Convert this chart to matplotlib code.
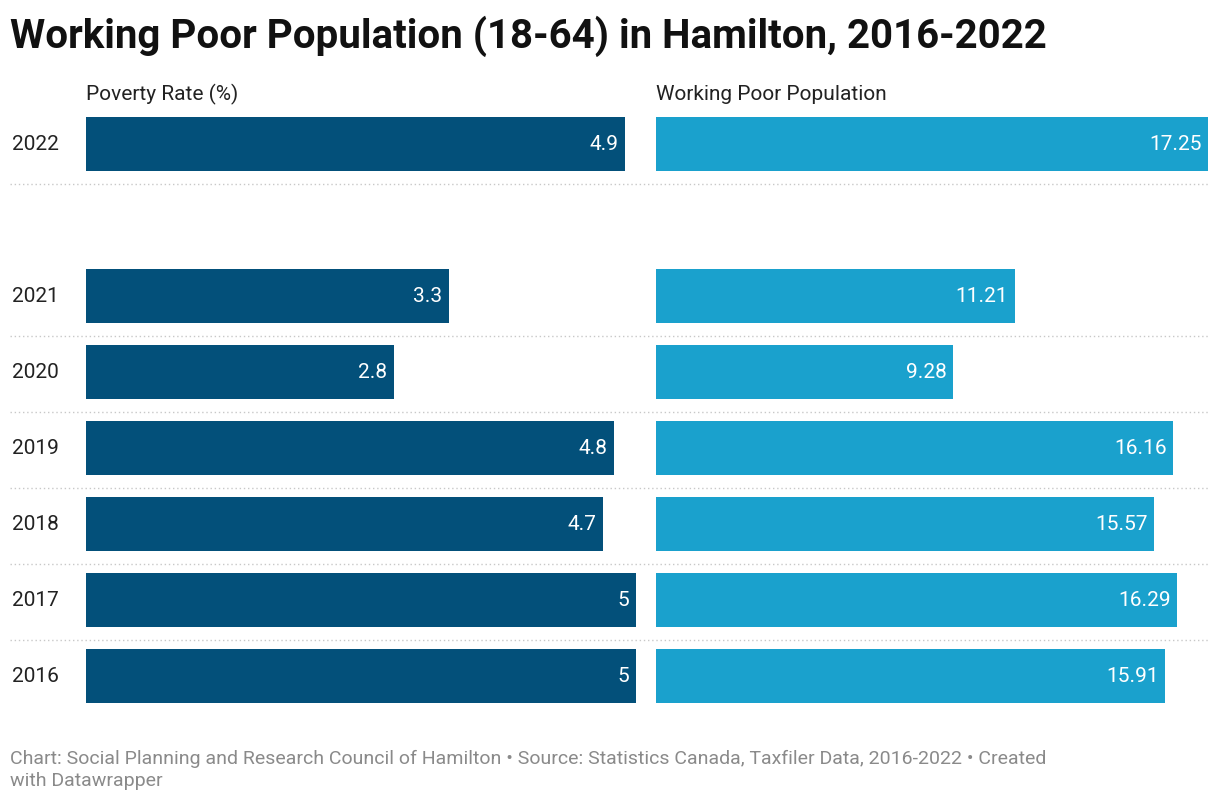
import matplotlib
matplotlib.use("Agg")
import matplotlib.pyplot as plt
from matplotlib.lines import Line2D

years = ["2022", "2021", "2020", "2019", "2018", "2017", "2016"]
rows = [0, 2, 3, 4, 5, 6, 7]
poverty_rate = [4.9, 3.3, 2.8, 4.8, 4.7, 5, 5]
working_poor = [17.25, 11.21, 9.28, 16.16, 15.57, 16.29, 15.91]
pov_labels = ["4.9", "3.3", "2.8", "4.8", "4.7", "5", "5"]
wp_labels = ["17.25", "11.21", "9.28", "16.16", "15.57", "16.29", "15.91"]

plt.rcParams['font.family'] = ['Roboto', 'DejaVu Sans']
W, H = 1220, 806
fig = plt.figure(figsize=(12.2, 8.06), dpi=100)

def ax_px(x0, x1, y0, y1):
    return fig.add_axes([x0 / W, 1 - y1 / H, (x1 - x0) / W, (y1 - y0) / H])

top, bot = 106, 714
ax1 = ax_px(86, 636, top, bot)
ax2 = ax_px(656, 1208, top, bot)
for ax, vals, labs, col, xmax in [(ax1, poverty_rate, pov_labels, "#03507a", 5),
                                   (ax2, working_poor, wp_labels, "#1aa1cd", 17.25)]:
    ax.barh(rows, vals, height=0.71, color=col)
    for r, v, l in zip(rows, vals, labs):
        ax.text(v - xmax * 0.012, r, l, ha="right", va="center", color="white", fontsize=15)
    ax.set_xlim(0, xmax)
    ax.set_ylim(7.5, -0.5)
    ax.axis("off")

for r, y in zip(rows, years):
    fy = 1 - (top + (r + 0.5) * 76) / H
    fig.text(12 / W, fy, y, ha="left", va="center", fontsize=15, color="#222222")

for r in [0, 2, 3, 4, 5, 6]:
    fy = 1 - (top + (r + 1) * 76 + 2) / H
    fig.add_artist(Line2D([10 / W, 1208 / W], [fy, fy], color="#c8c8c8", lw=1, ls=(0, (1, 2))))

fig.text(10 / W, 1 - 36 / H, "Working Poor Population (18-64) in Hamilton, 2016-2022",
         fontsize=29, fontweight="bold", va="center", ha="left", color="#111111")
fig.text(86 / W, 1 - 94 / H, "Poverty Rate (%)", fontsize=15, va="center", color="#222222")
fig.text(656 / W, 1 - 94 / H, "Working Poor Population", fontsize=15, va="center", color="#222222")
fig.text(10 / W, 1 - 770 / H,
         "Chart: Social Planning and Research Council of Hamilton • Source: Statistics Canada, Taxfiler Data, 2016-2022 • Created\nwith Datawrapper",
         fontsize=14, color="#8a8a8a", va="center", ha="left", linespacing=1.25)

fig.savefig("out.png", dpi=100, facecolor="white")
